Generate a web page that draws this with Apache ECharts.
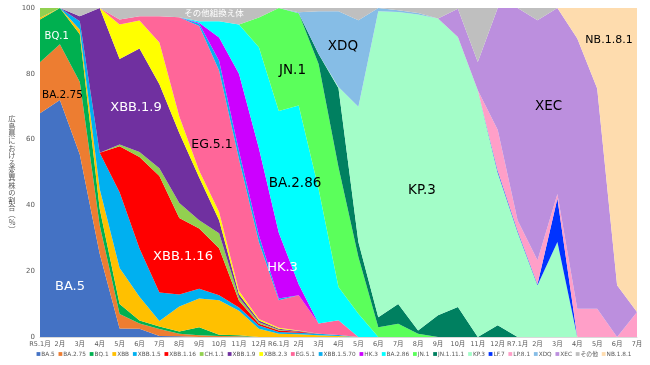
<!DOCTYPE html>
<html><head><meta charset="utf-8">
<script src="https://cdn.jsdelivr.net/npm/echarts/dist/echarts.min.js"></script>
<style>html,body{margin:0;padding:0;background:#fff}#c{width:650px;height:365px}</style>
</head><body><div id="c"></div>
<script>
// ---- categories ----
const months = ['R5.1月','2月','3月','4月','5月','6月','7月','8月','9月','10月','11月','12月',
  'R6.1月','2月','3月','4月','5月','6月','7月','8月','9月','10月','11月','12月',
  'R7.1月','2月','3月','4月','5月','6月','7月'];
const yTicks = [0,20,40,60,80,100];

// ---- series values (%) ----
const BA_5      = [68,72,55.5,25.3,2.6,2.5,0.3,0.2,0,0,0,0,0,0,0,0,0,0,0,0,0,0,0,0,0,0,0,0,0,0,0];
const BA_2_75   = [15.5,17,22,8.7,4.4,1.6,2.1,0.8,0.5,0.3,0.2,0,0,0,0,0,0,0,0,0,0,0,0,0,0,0,0,0,0,0,0];
const BQ_1      = [13,11,14.5,5,3,0.9,0.8,0.7,2.5,0.4,0.3,0,0,0,0,0,0,0,0,0,0,0,0,0,0,0,0,0,0,0,0];
const XBB       = [0.5,0,1.5,6,11,7.2,1.7,7.6,8.7,10.5,7.5,2.5,1,0.8,0.5,0.3,0,0,0,0,0,0,0,0,0,0,0,0,0,0,0];
const XBB_1_5   = [0,0,2.5,11,23,14.7,8.6,3.6,3,1.5,1,1,0.5,0.5,0.5,0.3,0,0,0,0,0,0,0,0,0,0,0,0,0,0,0];
const XBB_1_16  = [0,0,0,0,14,27.8,35.4,23.3,18.3,14.3,2,0.5,0.5,0.3,0,0,0,0,0,0,0,0,0,0,0,0,0,0,0,0,0];
const CH_1_1    = [3,0,0,0,0.5,1.5,2.4,4.5,2.5,4.5,1,0.5,0.2,0,0,0,0,0,0,0,0,0,0,0,0,0,0,0,0,0,0];
const XBB_1_9   = [0,0,1.5,44,26,31.5,25.5,21.3,13,4,1,0.5,0.3,0.2,0,0,0,0,0,0,0,0,0,0,0,0,0,0,0,0,0];
const XBB_2_3   = [0,0,0,0,10.5,8.5,12.7,5,2,2.5,1,0.5,0.3,0.2,0,0,0,0,0,0,0,0,0,0,0,0,0,0,0,0,0];
const EG_5_1    = [0,0,0,0,1.5,1.3,8,30.2,44,43,40,23.4,8.4,10.7,3.1,4.5,0,0,0,0,0,0,0,0,0,0,0,0,0,0,0];
const XBB_1_5_70= [0,0,0,0,0,0,0,0,0.7,3,2.5,2,0.5,0,0,0,0,0,0,0,0,0,0,0,0,0,0,0,0,0,0];
const HK_3      = [0,0,0,0,0,0,0,0,0.3,7,23.5,26.5,20,3.3,0,0,0,0,0,0,0,0,0,0,0,0,0,0,0,0,0];
const BA_2_86   = [0,0,0,0,0,0,0,0,0.5,5,15,30.7,37,54.4,40.9,10.1,7.1,0,0,0,0,0,0,0,0,0,0,0,0,0,0];
const JN_1      = [0,0,0,0,0,0,0,0,0,0,0,9,31.3,28,38,36.4,17.2,3,4,1,0,0,0,0,0,0,0,0,0,0,0];
const JN_1_11_1 = [0,0,0,0,0,0,0,0,0,0,0,0,0,0,3,24,4.6,3,6,1,6.6,9.1,0,3.6,0,0,0,0,0,0,0];
const KP_3      = [0,0,0,0,0,0,0,0,0,0,0,0,0,0,0,0.4,41.1,93,88.8,96,90.2,82.1,75,46.4,31.9,15.7,28.9,0,0,0,0];
const LF_7      = [0,0,0,0,0,0,0,0,0,0,0,0,0,0,0,0,0,0,0,0,0,0,0,0.5,0.4,0.3,13.2,0,0,0,0];
const LP_8_1    = [0,0,0,0,0,0,0,0,0,0,0,0,0,0,0,0,0,0,0,0,0,0,0,12.5,3.2,7.3,1.4,8.6,8.6,0,7.6];
const XDQ       = [0,0,0,0,0,0,0,0,0,0,0,0,0,0.3,13,23,26.3,1,0.5,0.5,0,0,0,0,0,0,0,0,0,0,0];
const XEC       = [0,0,0,0,0,0,0,0,0,0,0,0,0,0,0,0,0,0,0,0,0,8.6,8.6,37,64.5,73,56.5,82.1,66.9,15.7,0];
const OTHER     = [0,0,2.5,0,3.5,2.5,2.5,2.8,4,4,5,2.9,0,1.3,1,1,3.7,0,0.7,1.5,3.2,0.2,16.4,0,0,3.7,0,0,0,0,0];
const NB_1_8_1  = [0,0,0,0,0,0,0,0,0,0,0,0,0,0,0,0,0,0,0,0,0,0,0,0,0,0,0,9.3,24.5,84.3,92.4];

const seriesNames = ['BA.5','BA.2.75','BQ.1','XBB','XBB.1.5','XBB.1.16','CH.1.1','XBB.1.9','XBB.2.3','EG.5.1',
  'XBB.1.5.70','HK.3','BA.2.86','JN.1','JN.1.11.1','KP.3','LF.7','LP.8.1','XDQ','XEC','その他','NB.1.8.1'];
const seriesData = [BA_5,BA_2_75,BQ_1,XBB,XBB_1_5,XBB_1_16,CH_1_1,XBB_1_9,XBB_2_3,EG_5_1,
  XBB_1_5_70,HK_3,BA_2_86,JN_1,JN_1_11_1,KP_3,LF_7,LP_8_1,XDQ,XEC,OTHER,NB_1_8_1];
const colors = ['#4472C4','#ED7D31','#00B050','#FFC000','#00B0F0','#FF0000','#92D050','#7030A0','#FFFF00','#FF6699',
  '#0AAEEE','#CC00FF','#00FFFF','#5BFF5B','#008060','#A3FDC8','#0033FF','#FF9FC8','#86BDE6','#BC8FDE','#BFBFBF','#FEDCAE'];

const LATIN = '"DejaVu Sans","Noto Sans CJK JP",sans-serif';
const CJK = '"Noto Sans CJK JP","DejaVu Sans",sans-serif';

// in-chart annotations: [text, x, y, colour, size]
const annotations = [
  ['BQ.1', 56.7, 36.7, '#ffffff', 10],
  ['BA.2.75', 62.5, 95, '#000000', 10.5],
  ['XBB.1.9', 136, 108, '#ffffff', 13],
  ['EG.5.1', 212, 145, '#000000', 12.5],
  ['JN.1', 292.5, 70, '#000000', 13.5],
  ['XDQ', 343, 46.7, '#000000', 13.5],
  ['NB.1.8.1', 609, 40, '#000000', 11],
  ['XEC', 548.5, 106.7, '#000000', 13.5],
  ['BA.2.86', 295, 183.3, '#000000', 13.5],
  ['KP.3', 422, 190, '#000000', 13.5],
  ['XBB.1.16', 183, 256.7, '#ffffff', 13],
  ['HK.3', 282.5, 268, '#ffffff', 13],
  ['BA.5', 70, 286.7, '#ffffff', 13],
  ['その他組換え体', 214, 13, '#ffffff', 8.5]
];

const chart = echarts.init(document.getElementById('c'), null, {renderer:'canvas'});

const graphics = [];
annotations.forEach(a => {
  graphics.push({type:'text', x:a[1], y:a[2], silent:true, z:100,
    style:{text:a[0], fill:a[3], fontSize:a[4], fontFamily: /[^\x00-\x7f]/.test(a[0]) ? CJK : LATIN,
      align:'center', verticalAlign:'middle', textAlign:'center', textVerticalAlign:'middle'}});
});
// y axis title (vertical writing, one glyph per row)
const yTitle = Array.from('広島県における変異株の割合︵%︶');
const yStep = 7.4;
yTitle.forEach((ch,k) => {
  graphics.push({type:'text', silent:true, x:12, y:174 + (k - (yTitle.length-1)/2)*yStep,
    style:{text:ch, fill:'#595959', fontSize:7.3, fontFamily:CJK,
      align:'center', verticalAlign:'middle', textAlign:'center', textVerticalAlign:'middle'}});
});

// legend row
const LEG_SIZE = 5.8;
const ctx = document.createElement('canvas').getContext('2d');
ctx.font = LEG_SIZE + 'px ' + LATIN;
const mk = 3.8, mkGap = 1, itemGap = 3.8;
const widths = seriesNames.map(n => ctx.measureText(n).width);
const total = widths.reduce((s,w)=>s+mk+mkGap+w,0) + itemGap*(seriesNames.length-1);
let lx = 334 - total/2;
const ly = 354;
seriesNames.forEach((n,i) => {
  graphics.push({type:'rect', silent:true, shape:{x:lx, y:ly-mk/2, width:mk, height:mk}, style:{fill:colors[i]}});
  graphics.push({type:'text', silent:true, x:lx+mk+mkGap, y:ly,
    style:{text:n, fill:'#595959', fontSize:LEG_SIZE, fontFamily:LATIN,
      align:'left', verticalAlign:'middle', textAlign:'left', textVerticalAlign:'middle'}});
  lx += mk + mkGap + widths[i] + itemGap;
});

chart.setOption({
  animation:false,
  backgroundColor:'#ffffff',
  grid:{left:40, right:13, top:8, bottom:28, containLabel:false},
  xAxis:{type:'category', data:months, boundaryGap:false,
    axisLine:{show:true, lineStyle:{color:'#D9D9D9'}},
    axisTick:{show:false},
    axisLabel:{interval:0, fontSize:6.5, color:'#595959', fontFamily:LATIN, margin:4}},
  yAxis:{type:'value', min:yTicks[0], max:yTicks[yTicks.length-1], interval:20,
    axisLine:{show:false}, axisTick:{show:false}, splitLine:{show:false},
    axisLabel:{fontSize:7, color:'#595959', fontFamily:LATIN, margin:5}},
  series: seriesNames.map((n,i)=>({
    name:n, type:'line', stack:'all', data:seriesData[i], symbol:'none', showSymbol:false,
    lineStyle:{width:0}, itemStyle:{color:colors[i]},
    areaStyle:{color:colors[i], opacity:1}, emphasis:{disabled:true}, silent:true
  })),
  graphic: graphics
});
</script>
</body></html>
